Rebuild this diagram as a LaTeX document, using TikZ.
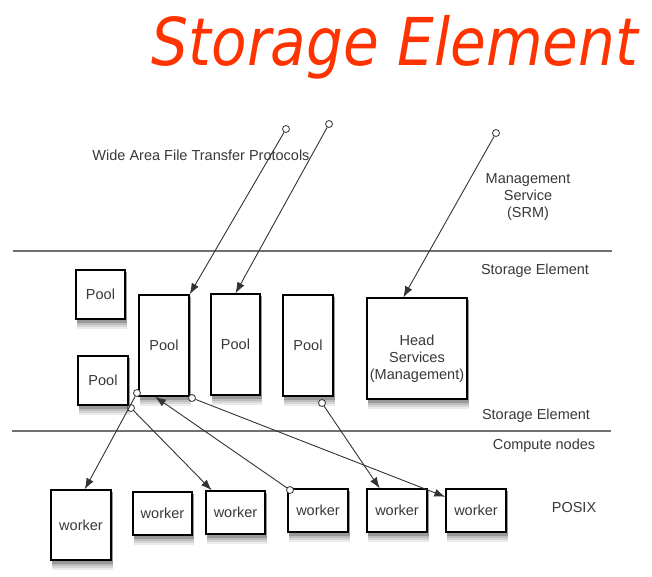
\documentclass[tikz,border=0pt]{standalone}
\usepackage{fontspec}
\setmainfont{Liberation Sans}
\newfontfamily\titlefont{DejaVu Sans}
\usetikzlibrary{arrows.meta,backgrounds,calc}
\definecolor{titlered}{HTML}{FF3300}
\definecolor{labelgray}{HTML}{383838}
\definecolor{rulegray}{HTML}{707070}

\begin{document}
\begin{tikzpicture}[x=1pt,y=-1pt,
  >={Latex[length=11pt,width=8pt]},
  box/.style={rectangle, draw, line width=1.3pt, fill=white, inner sep=0pt,
    text=labelgray, font=\fontsize{14.5}{17}\selectfont, align=center},
  port/.style={circle, draw=black!80, fill=white, inner sep=0pt, minimum size=7pt, line width=0.8pt},
  label/.style={text=labelgray, font=\fontsize{14.5}{17}\selectfont, align=center},
  conn/.style={line width=0.9pt, black!80}]
  \useasboundingbox (0,0) rectangle (652,576);

  \node[anchor=base, text=titlered, font=\titlefont\itshape\fontsize{66}{70}\selectfont]
    (title) at (395,65) {\scalebox{0.88}[1]{Storage Element}};

  % layer separators
  \draw[rulegray, line width=1.1pt] (13,251) -- (612,251);
  \draw[rulegray, line width=1.1pt] (12,431) -- (611,431);

  \path (201,155) node[label](wan){Wide Area File Transfer Protocols}
        (528,197) node[label](srm){Management\\Service\\(SRM)}
        (535,271) node[label](seTop){Storage Element}
        (536,416) node[label](seBot){Storage Element}
        (544,446) node[label](compute){Compute nodes}
        (574,507) node[label](posix){POSIX};

  % storage element
  \path (100.5,294.5) node[box, minimum width=49pt, minimum height=49pt](poolA){Pool}
        (164,345.5) node[box, minimum width=50pt, minimum height=101pt](poolB){Pool}
        (235.5,344.5) node[box, minimum width=49pt, minimum height=101pt](poolC){Pool}
        (308,345.5) node[box, minimum width=50pt, minimum height=101pt](poolD){Pool}
        (103,380.5) node[box, minimum width=50pt, minimum height=49pt](poolE){Pool}
        (417,348.5) node[box, minimum width=100pt, minimum height=101pt](head)
          {\raisebox{-14pt}[0pt][0pt]{\begin{tabular}{@{}c@{}}Head\\Services\\(Management)\end{tabular}}};

  % compute nodes
  \path (81,525) node[box, minimum width=60pt, minimum height=70pt](w1){worker}
        (162.5,513.5) node[box, minimum width=59pt, minimum height=43pt](w2){worker}
        (235.5,512.5) node[box, minimum width=59pt, minimum height=43pt](w3){worker}
        (318,510.5) node[box, minimum width=60pt, minimum height=43pt](w4){worker}
        (397,510.5) node[box, minimum width=60pt, minimum height=43pt](w5){worker}
        (476,510.5) node[box, minimum width=60pt, minimum height=43pt](w6){worker};

  % soft shadows under the boxes
  \begin{scope}[on background layer]
    \foreach \n in {poolA,poolB,poolC,poolD,poolE,head,w1,w2,w3,w4,w5,w6}
      \foreach \s/\c in {9/8,7/16,5/26,3/40}
        \fill[black!\c] ($(\n.south west)+(1.5,\s)$) rectangle ($(\n.north east)+(1.5,\s)$);
  \end{scope}

  % protocol end points
  \path (286,129) node[port](p1){}
        (329,124) node[port](p2){}
        (496,133) node[port](p3){}
        (137,393) node[port](q1){}
        (131,408) node[port](q2){}
        (290,490) node[port](q3){}
        (192,398) node[port](q4){}
        (322,403) node[port](q5){};

  \draw[conn,->](p1) -- (poolB.north east);
  \draw[conn,->](p2) -- (poolC.north);
  \draw[conn,->](p3) -- (head.105);
  \draw[conn,->](q1) -- (w1.84);
  \draw[conn,->](q2) -- (w3.137);
  \draw[conn,->](q3) -- (poolB.260);
  \draw[conn,->](q4) -- (w6.156);
  \draw[conn,->](q5) -- (w5.128);
\end{tikzpicture}
\end{document}
